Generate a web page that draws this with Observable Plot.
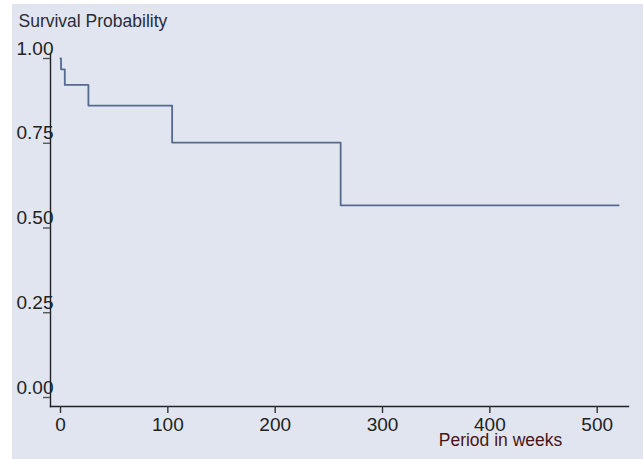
<!DOCTYPE html>
<html>
<head>
<meta charset="utf-8">
<script src="https://cdn.jsdelivr.net/npm/d3@7"></script>
<script src="https://cdn.jsdelivr.net/npm/@observablehq/plot@0.6"></script>
<style>
  html, body { margin: 0; padding: 0; background: #ffffff; }
  #wrap { position: relative; width: 643px; height: 459px; overflow: hidden; }
  #bg { position: absolute; left: 12px; top: 4px; right: 0; bottom: 0; background: #e1e5f0; }
  #chart { position: absolute; left: 0; top: 0; }
  #chart svg { background: transparent; }
</style>
</head>
<body>
<div id="wrap"><div id="bg"></div><div id="chart"></div></div>
<script>
// Kaplan-Meier estimate
const weeks    = [0, 0.5, 4, 26, 104, 261, 520];
const survival = [1.0, 0.968, 0.922, 0.861, 0.752, 0.567, 0.567];
const xTicks = [0, 100, 200, 300, 400, 500];
const yTicks = [0, 0.25, 0.5, 0.75, 1.0];
const yTickLabels = ["0.00", "0.25", "0.50", "0.75", "1.00"];
const yTitle = "Survival Probability";
const xTitle = "Period in weeks";

const data = weeks.map((w, i) => ({week: w, surv: survival[i]}));

const chart = Plot.plot({
  width: 643,
  height: 459,
  marginLeft: 50,
  marginRight: 15,
  marginTop: 53,
  marginBottom: 53,
  style: {background: "transparent", fontFamily: "'Liberation Sans', Arial, sans-serif", overflow: "visible"},
  x: {domain: [0, 500], range: [60, 596.7]},
  y: {domain: [0, 1], range: [397, 58]},
  marks: [
    Plot.frame({anchor: "left", stroke: "#222", strokeWidth: 1.4}),
    Plot.frame({anchor: "bottom", stroke: "#222", strokeWidth: 1.4}),
    Plot.axisY(yTicks, {tickSize: 7, fill: "none", stroke: "#555", strokeWidth: 1.4, label: null}),
    Plot.axisY(yTicks, {tickSize: 0, tickFormat: (d, i) => yTickLabels[i], fill: "#222", fontSize: 19, dx: 12, dy: -10, label: null}),
    Plot.axisX(xTicks, {tickSize: 7, stroke: "#333", strokeWidth: 1.4, fill: "#222", fontSize: 19, tickPadding: 4, label: null}),
    Plot.line(data, {x: "week", y: "surv", curve: "step-after", stroke: "#56698f", strokeWidth: 1.8}),
    Plot.text([yTitle], {frameAnchor: "top-left", text: d => d, textAnchor: "start", fontSize: 17.5, fill: "#2b2b38", dx: -32, dy: -39}),
    Plot.text([xTitle], {frameAnchor: "bottom", text: d => d, textAnchor: "middle", fontSize: 17.5, fill: "#4a1414", dx: 161, dy: 39})
  ]
});
document.getElementById("chart").appendChild(chart);
</script>
</body>
</html>
